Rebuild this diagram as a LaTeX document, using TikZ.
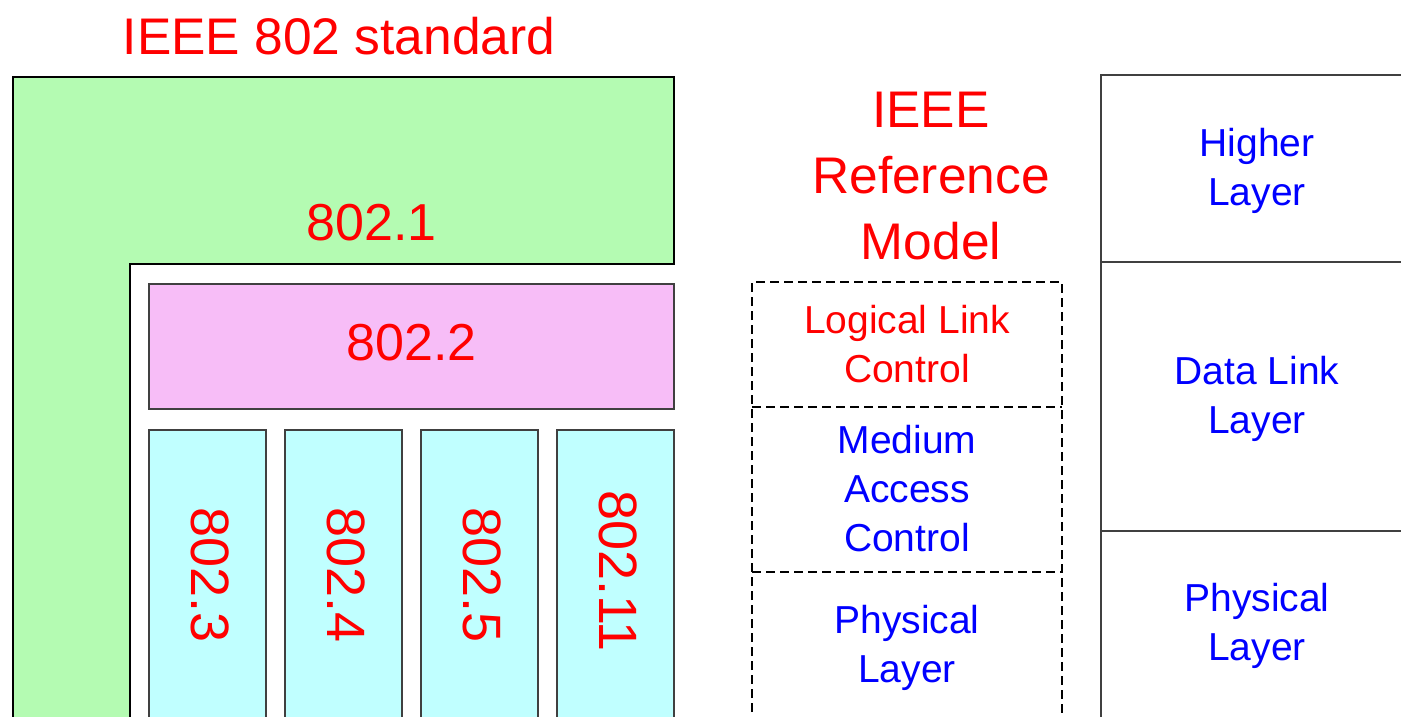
\documentclass[tikz,border=0pt]{standalone}
\usepackage{fontspec}
\setmainfont{Liberation Sans}
\definecolor{stdgreen}{RGB}{180,251,178}
\definecolor{stdpink}{RGB}{247,189,247}
\definecolor{stdcyan}{RGB}{192,255,255}
\definecolor{edgegray}{RGB}{64,64,64}
\definecolor{txtred}{RGB}{255,0,0}
\definecolor{txtblue}{RGB}{0,0,255}
\begin{document}
\begin{tikzpicture}[x=1pt,y=-1pt,
  titletext/.style={font=\fontsize{51.5}{66}\selectfont, align=center, inner sep=0pt},
  stdtext/.style={font=\fontsize{52}{66}\selectfont, inner sep=0pt, text=txtred},
  vstdtext/.style={font=\fontsize{54}{66}\selectfont, inner sep=0pt, text=txtred, rotate=-90},
  midtext/.style={font=\fontsize{39}{49}\selectfont, align=center, inner sep=0pt},
  subbox/.style={draw=edgegray, line width=1.4pt},
  dashline/.style={draw=black, line width=1.3pt, dash pattern=on 9pt off 5pt},
  layerbox/.style={draw=edgegray, line width=1.4pt}
]
\useasboundingbox (0,0) rectangle (1401,716);
\clip (0,0) rectangle (1401,716);

% IEEE 802 family of standards
\node[titletext, text=txtred] (title) at (339,36) {IEEE 802 standard};

% 802.1: L-shaped block wrapping the other standards
\draw[fill=stdgreen, draw=black, line width=2pt]
  (13,77) -- (674,77) -- (674,264) -- (130,264) -- (130,740) -- (13,740) -- cycle;
\node[stdtext] (s1) at (371.5,222.5) {802.1};

% 802.2: logical link control
\draw[subbox, fill=stdpink] (149,284) rectangle (674,409);
\node[stdtext] (s2) at (411.5,343) {802.2};

% MAC/PHY standards, set vertically
\draw[subbox, fill=stdcyan] (149,430) rectangle (266,740);
\draw[subbox, fill=stdcyan] (285,430) rectangle (402,740);
\draw[subbox, fill=stdcyan] (421,430) rectangle (538,740);
\draw[subbox, fill=stdcyan] (557,430) rectangle (674,740);
\node[vstdtext] (s3)  at (210.5,575) {802.3};
\node[vstdtext] (s4)  at (346.5,575) {802.4};
\node[vstdtext] (s5)  at (482.5,575) {802.5};
\node[vstdtext] (s11) at (618.5,571) {802.11};

% IEEE reference model: sublayers in a dashed column
\node[titletext, text=txtred] (refmodel) at (931,176) {IEEE\\Reference\\Model};
\draw[dashline] (752,740) -- (752,282) -- (1062,282) -- (1062,740);
\draw[dashline] (752,407) -- (1062,407);
\draw[dashline] (752,572) -- (1062,572);
\node[midtext, text=txtred]  (llc) at (907,344) {Logical Link\\Control};
\node[midtext, text=txtblue] (mac) at (907,488.5) {Medium\\Access\\Control};
\node[midtext, text=txtblue] (phy) at (907,648) {Physical\\Layer};

% OSI layers
\draw[layerbox] (1101,75) rectangle (1420,262);
\draw[layerbox] (1101,262) rectangle (1420,531);
\draw[layerbox] (1101,531) rectangle (1420,740);
\node[midtext, text=txtblue] (higher)   at (1257,170.5) {Higher\\Layer};
\node[midtext, text=txtblue] (datalink) at (1257,398.5) {Data Link\\Layer};
\node[midtext, text=txtblue] (osiphy)   at (1257,626) {Physical\\Layer};
\end{tikzpicture}
\end{document}
